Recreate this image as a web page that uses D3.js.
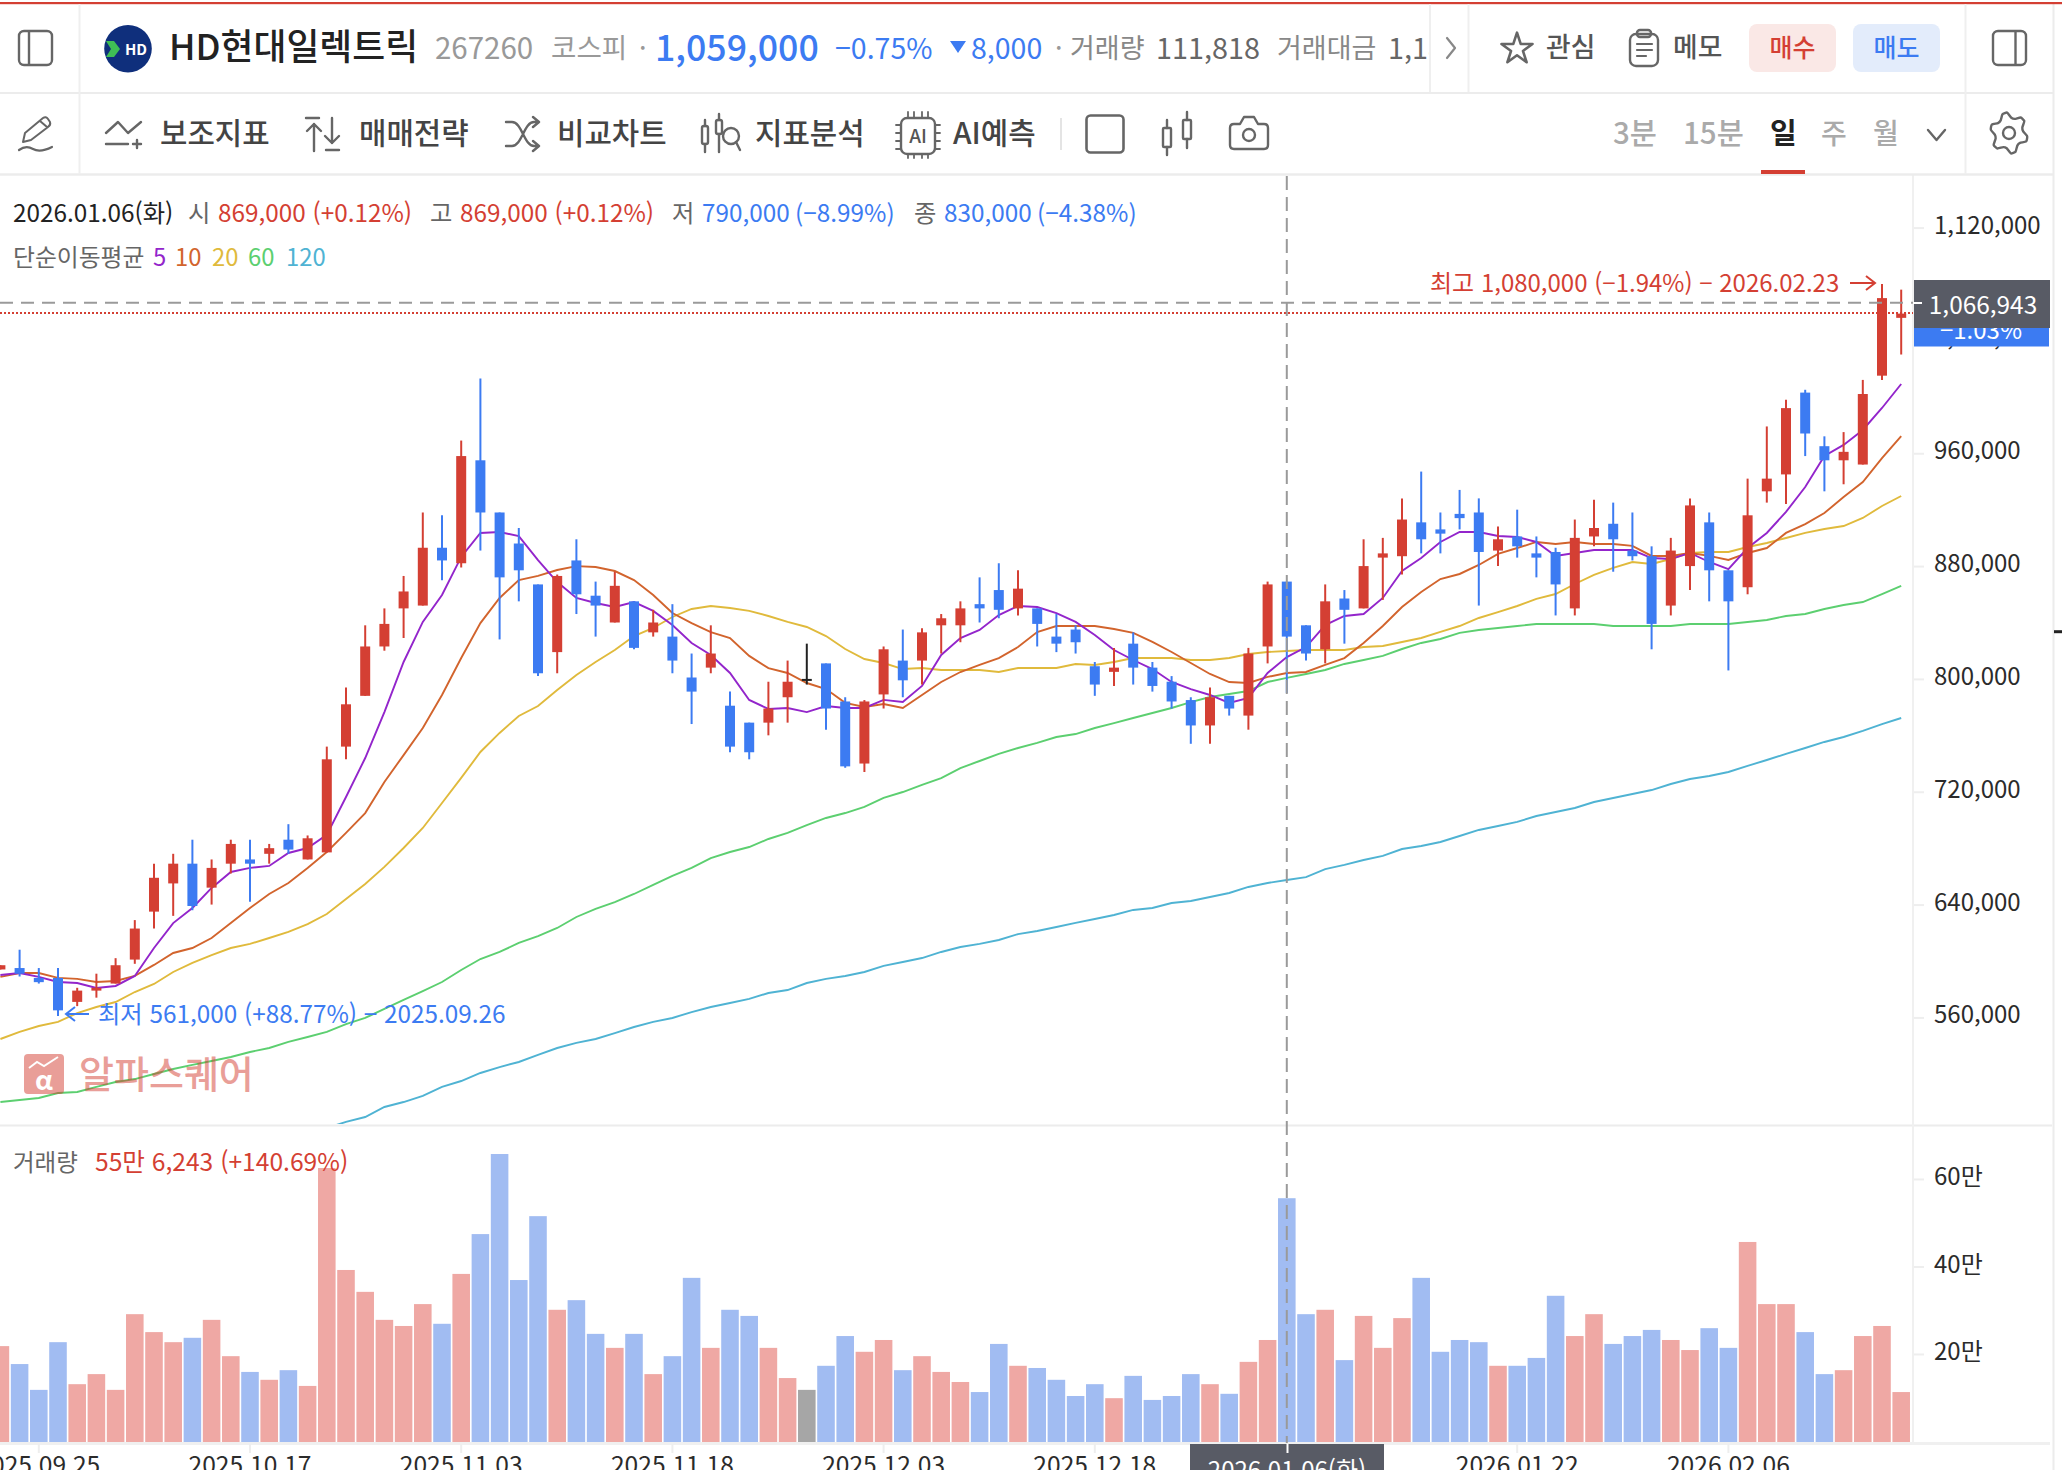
<!DOCTYPE html>
<html lang="ko">
<head>
<meta charset="utf-8">
<title>HD현대일렉트릭</title>
<script src="https://cdn.jsdelivr.net/npm/d3@7"></script>
<style>
  html, body { margin: 0; padding: 0; background: #fff; overflow: hidden; }
  svg { display: block; font-family: "Noto Sans CJK KR", "Noto Sans", sans-serif; }
</style>
</head>
<body>
<script>
const tradingDays = [
  "2025.09.23","2025.09.24","2025.09.25","2025.09.26","2025.09.29","2025.09.30","2025.10.01","2025.10.02","2025.10.10","2025.10.13",
  "2025.10.14","2025.10.15","2025.10.16","2025.10.17","2025.10.20","2025.10.21","2025.10.22","2025.10.23","2025.10.24","2025.10.27",
  "2025.10.28","2025.10.29","2025.10.30","2025.10.31","2025.11.03","2025.11.04","2025.11.05","2025.11.06","2025.11.07","2025.11.10",
  "2025.11.11","2025.11.12","2025.11.13","2025.11.14","2025.11.17","2025.11.18","2025.11.19","2025.11.20","2025.11.21","2025.11.24",
  "2025.11.25","2025.11.26","2025.11.27","2025.11.28","2025.12.01","2025.12.02","2025.12.03","2025.12.04","2025.12.05","2025.12.08",
  "2025.12.09","2025.12.10","2025.12.11","2025.12.12","2025.12.15","2025.12.16","2025.12.17","2025.12.18","2025.12.19","2025.12.22",
  "2025.12.23","2025.12.24","2025.12.26","2025.12.29","2025.12.30","2026.01.02","2026.01.05","2026.01.06","2026.01.07","2026.01.08",
  "2026.01.09","2026.01.12","2026.01.13","2026.01.14","2026.01.15","2026.01.16","2026.01.19","2026.01.20","2026.01.21","2026.01.22",
  "2026.01.23","2026.01.26","2026.01.27","2026.01.28","2026.01.29","2026.01.30","2026.02.02","2026.02.03","2026.02.04","2026.02.05",
  "2026.02.06","2026.02.09","2026.02.10","2026.02.11","2026.02.12","2026.02.13","2026.02.19","2026.02.20","2026.02.23","2026.02.24"
];

// prices in thousand won
const opens = [594,595,588,588,571,579,584,601,635,655,669,652,669,672,676,686,672,677,752,788,823,850,852,893,882,955,918,896,867,819,
  884,859,840,855,833,830,801,808,781,769,769,787,800,811,784,740,789,813,813,838,838,853,863,850,850,830,835,809,805,825,
  808,798,785,767,788,774,823,869,838,821,857,850,886,887,911,906,917,918,891,901,889,890,850,901,910,891,887,852,880,911,
  877,865,933,945,1003,965,955,952,1015,1056];
const highs = [597,608,595,595,581,591,602,629,669,676,686,672,686,686,683,697,689,752,794,838,850,873,918,916,969,1013,918,907,867,874,
  899,869,876,855,849,853,818,838,791,769,798,813,825,811,787,785,823,835,836,846,855,872,882,877,850,846,838,812,822,833,
  812,802,787,794,788,822,869,869,838,867,863,899,900,928,947,918,934,928,908,920,901,893,913,927,925,918,894,900,928,918,
  877,942,979,998,1005,972,975,1012,1080,1076];
const lows = [594,589,584,561,568,574,584,598,623,632,636,640,662,642,669,676,672,677,743,788,820,829,852,870,879,891,828,855,802,804,
  846,830,840,821,830,804,768,804,748,743,760,769,796,764,737,734,779,787,796,818,826,840,843,845,823,819,818,788,795,796,
  791,779,754,754,774,764,811,790,813,811,825,850,856,874,889,889,906,852,880,886,872,845,845,894,876,884,821,845,863,855,
  806,860,925,924,958,933,938,952,1012,1030];
const closes = [597,591,585,565,579,581,597,623,659,669,639,666,683,669,680,679,687,743,782,823,839,862,893,884,958,918,872,877,804,873,
  860,852,866,822,840,813,791,818,752,748,779,798,800,779,738,784,821,799,833,843,850,850,849,864,839,825,826,796,808,808,
  795,784,767,787,779,818,867,830,818,855,849,880,889,913,899,903,914,890,899,894,886,867,900,907,899,887,839,891,923,877,
  855,916,942,992,974,955,961,1002,1070,1059];

const ma5 = [590.1,591.5,588.7,585.1,584.4,580.9,582.3,589.4,609.2,626.9,637.6,651.8,663.1,666.0,667.4,676.6,680.1,689.4,716.3,743.9,
  776.5,812.0,840.4,859.5,886.5,903.5,904.2,901.3,884.3,868.7,857.4,853.8,851.0,854.5,848.2,838.2,825.5,817.0,804.2,785.1,
  778.7,779.4,776.5,780.8,779.4,779.4,785.1,783.6,795.0,817.0,829.0,834.7,845.3,851.7,851.0,846.7,840.4,831.1,820.5,813.4,
  807.0,797.8,792.8,788.6,783.0,786.5,804.2,815.5,822.6,838.2,844.6,846.0,857.4,876.5,885.7,897.1,904.2,904.2,901.3,900.6,
  897.1,887.2,889.3,891.4,891.4,891.4,885.7,885.0,889.3,882.9,877.9,892.8,903.5,918.4,936.1,958.1,965.9,976.5,992.1,1009.1];
const ma10 = [588.7,591.5,591.5,588.0,587.3,585.1,585.8,589.4,597.2,605.7,609.2,616.3,626.9,637.6,647.5,655.3,666.0,677.3,690.8,704.9,
  726.9,746.0,765.2,788.6,814.8,839.6,857.4,870.1,873.0,877.2,880.0,879.3,876.5,870.1,859.5,846.7,839.6,833.2,829.0,816.3,
  807.7,804.2,797.1,792.8,783.0,780.1,782.2,779.4,788.6,797.8,804.9,809.9,814.8,822.6,833.2,837.5,837.5,837.5,835.4,832.6,
  826.2,819.1,811.3,803.5,797.8,797.1,801.4,804.2,804.9,809.9,814.8,825.5,837.5,851.0,861.6,870.8,874.4,880.8,888.6,892.8,
  897.1,895.7,897.1,895.7,895.7,894.3,887.2,887.2,889.3,887.2,884.3,889.3,892.8,903.5,909.8,917.6,929.0,939.6,956.6,972.2];
const ma20 = [544.7,549.7,553.9,556.8,563.1,567.4,570.9,578.0,583.7,592.2,598.6,604.2,609.2,612.1,616.3,620.6,626.2,633.3,643.9,654.6,
  666.7,680.1,694.3,712.0,729.8,748.2,761.7,773.7,780.8,792.1,802.8,812.0,820.5,830.4,836.1,843.9,849.6,851.7,850.3,848.2,
  844.6,840.4,836.8,830.4,821.2,814.1,811.3,807.0,807.7,806.3,806.3,806.3,804.9,807.7,807.7,807.7,810.6,809.9,812.0,814.8,
  814.8,814.8,813.4,813.4,814.8,817.7,819.1,819.8,820.5,820.5,820.5,822.6,823.3,826.2,829.0,833.3,837.5,843.2,847.4,851.7,
  856.7,860.2,867.3,873.7,878.7,882.9,881.5,885.0,889.3,890.0,890.0,893.5,896.4,899.9,903.5,906.3,908.4,914.1,922.6,929.7];
const ma60 = [500.0,501.4,502.9,506.4,507.1,510.7,514.2,516.3,519.9,523.4,526.3,529.1,531.9,535.5,538.3,542.6,546.1,549.7,555.3,559.6,
  566.0,572.4,578.7,585.1,593.6,601.4,606.4,612.8,617.7,623.4,631.2,636.9,641.8,647.5,653.9,660.3,666.0,673.0,677.3,680.8,
  686.5,690.8,696.4,701.4,704.9,709.2,715.6,719.8,724.8,729.7,736.8,741.8,746.8,751.0,754.6,758.8,760.9,765.2,768.7,772.3,
  775.8,779.4,783.6,787.2,789.3,791.4,797.8,800.7,803.5,806.3,810.6,813.4,816.3,821.2,825.5,828.3,832.6,834.7,836.1,837.5,
  838.9,838.9,838.9,838.9,837.5,837.5,837.5,837.5,838.9,838.9,838.9,840.4,841.8,844.6,846.0,849.6,852.4,854.5,860.2,865.9];
// the 120 day line only enters the pane at 2025.10.23, earlier values lie below it
const ma120 = [null,null,null,null,null,null,null,null,null,null,null,null,null,null,null,null,null,481.6,485.9,489.4,
  496.5,500.0,504.3,510.7,514.9,520.6,524.8,528.4,533.4,538.3,541.9,544.7,548.9,553.2,556.8,559.6,563.8,567.4,570.2,573.1,
  577.3,579.4,584.4,587.3,589.4,592.2,596.5,599.3,602.1,606.4,609.9,612.1,614.9,619.1,621.3,624.1,627.0,629.8,632.6,636.2,
  637.6,641.1,642.5,645.4,648.2,652.5,655.3,657.4,659.5,665.2,668.1,671.6,674.5,679.4,681.5,684.4,688.6,692.9,695.7,698.6,
  702.8,705.6,708.5,712.7,715.6,718.4,721.2,725.5,729.0,731.2,734.0,738.3,742.5,746.8,751.0,755.3,758.8,763.1,768.0,772.3];

// volume in units of 만 shares
const volumes = [21.8,17.7,11.8,22.7,13.1,15.4,11.8,29.1,25.0,22.7,23.7,27.8,19.5,15.9,14.1,16.3,12.7,62.5,39.2,34.2,
  27.8,26.4,31.4,26.9,38.3,47.4,65.7,36.9,51.5,30.1,32.3,24.6,21.4,24.6,15.4,19.5,37.4,21.4,30.1,28.7,
  21.4,14.5,11.8,17.3,24.1,20.5,23.2,16.3,19.5,15.9,13.6,11.3,22.3,17.3,16.8,14.1,10.4,13.1,9.9,15.0,
  9.5,10.4,15.4,13.1,10.9,18.2,23.2,55.6,29.1,30.1,18.6,28.7,21.4,28.2,37.4,20.5,23.2,22.7,17.3,17.3,
  19.1,33.3,24.1,29.1,22.3,24.1,25.5,23.2,20.9,25.9,21.4,45.6,31.4,31.4,25.0,15.4,16.3,24.1,26.4,11.3];

const priceTicks = [1120,1040,960,880,800,720,640,560];
const volumeTicks = [20,40,60];
const dateTicks = ["2025.09.25","2025.10.17","2025.11.03","2025.11.18","2025.12.03","2025.12.18","2026.01.22","2026.02.06"];

const movingAverages = [
  { values: ma120, color: "#4fb3d3" },
  { values: ma60, color: "#5ccf70" },
  { values: ma20, color: "#e0ba3c" },
  { values: ma10, color: "#d2642d" },
  { values: ma5, color: "#9325cb" },
];

const RED = "#d43f33", BLUE = "#3c7bf2", DARK = "#585b65", LINE = "#efefef", ICON = "#666";

const svg = d3.select("body").append("svg").attr("width", 2062).attr("height", 1470);

const text = (parent, x, y, str, fill, size, opts = {}) =>
  parent.append("text").attr("x", x).attr("y", y).attr("fill", fill)
    .attr("font-size", size).attr("font-weight", opts.weight || 400)
    .attr("text-anchor", opts.anchor || "start").text(str);

const vline = (x, y1, y2, color = LINE, w = 2) =>
  svg.append("line").attr("x1", x).attr("x2", x).attr("y1", y1).attr("y2", y2).attr("stroke", color).attr("stroke-width", w);
const hline = (y, x1, x2, color = LINE, w = 2) =>
  svg.append("line").attr("x1", x1).attr("x2", x2).attr("y1", y).attr("y2", y).attr("stroke", color).attr("stroke-width", w);

// scales
const x = d3.scaleBand().domain(tradingDays).range([-9.2, 1910.8]).paddingInner(0.085).paddingOuter(0.0425);
const cx = (d) => x(d) + x.bandwidth() / 2;
const yPrice = d3.scaleLinear().domain([1080, 561]).range([284, 1016]);
const yVolume = d3.scaleLinear().domain([0, 70]).range([1441.5, 1135.2]);

svg.append("defs").append("clipPath").attr("id", "pricePane")
  .append("rect").attr("x", 0).attr("y", 176).attr("width", 1912).attr("height", 948);

// volume bars
const candleColor = (i, soft) => {
  if (closes[i] === opens[i]) return soft ? "#a6a6a6" : "#222";
  if (closes[i] > opens[i]) return soft ? "#efa8a4" : RED;
  return soft ? "#a1bcf2" : BLUE;
};

svg.append("g").selectAll("rect").data(tradingDays).join("rect")
  .attr("x", (d) => x(d))
  .attr("width", x.bandwidth())
  .attr("y", (d, i) => yVolume(volumes[i]))
  .attr("height", (d, i) => 1442 - yVolume(volumes[i]))
  .attr("fill", (d, i) => candleColor(i, true));

// moving averages
const pricePane = svg.append("g").attr("clip-path", "url(#pricePane)");
movingAverages.forEach((ma) => {
  const line = d3.line()
    .defined((d, i) => ma.values[i] !== null)
    .x((d) => cx(d))
    .y((d, i) => yPrice(ma.values[i]));
  pricePane.append("path").attr("d", line(tradingDays))
    .attr("fill", "none").attr("stroke", ma.color).attr("stroke-width", 1.9);
});

// candles
const candles = pricePane.append("g").selectAll("g").data(tradingDays).join("g");
candles.append("line")
  .attr("x1", (d) => cx(d)).attr("x2", (d) => cx(d))
  .attr("y1", (d, i) => yPrice(highs[i])).attr("y2", (d, i) => yPrice(lows[i]))
  .attr("stroke", (d, i) => candleColor(i, false)).attr("stroke-width", 2);
candles.append("rect")
  .attr("x", (d) => cx(d) - 5).attr("width", 10)
  .attr("y", (d, i) => yPrice(Math.max(opens[i], closes[i])))
  .attr("height", (d, i) => Math.max(2, Math.abs(yPrice(opens[i]) - yPrice(closes[i]))))
  .attr("fill", (d, i) => candleColor(i, false));

// watermark
const mark = svg.append("g").attr("opacity", 0.5);
mark.append("rect").attr("x", 24).attr("y", 1054).attr("width", 40).attr("height", 40).attr("rx", 4).attr("fill", RED);
mark.append("path").attr("d", "M29 1068 L37 1062 L44 1066 L58 1057").attr("fill", "none").attr("stroke", "#fff").attr("stroke-width", 2);
text(mark, 44, 1090, "α", "#fff", 27, { anchor: "middle", weight: 700 });
text(mark, 79, 1088, "알파스퀘어", RED, 38, { weight: 500 });

// axes
hline(1125.5, 0, 2052, "#ececec", 2);
hline(1443.5, 0, 2050, "#f0f0f0", 3);
vline(1913, 175, 1443, "#f0f0f0", 2);
vline(2053.5, 4, 1470, "#ececec", 2);

const priceAxis = svg.append("g").attr("transform", "translate(1914,0)")
  .call(d3.axisRight(yPrice).tickValues(priceTicks).tickSize(10).tickFormat((d) => d3.format(",")(d * 1000)));
const volumeAxis = svg.append("g").attr("transform", "translate(1914,0)")
  .call(d3.axisRight(yVolume).tickValues(volumeTicks).tickSize(10).tickFormat((d) => d + "만"));
const dateAxis = svg.append("g").attr("transform", "translate(0,1444)")
  .call(d3.axisBottom(x).tickValues(dateTicks).tickSize(9));

[priceAxis, volumeAxis, dateAxis].forEach((axis) => {
  axis.select(".domain").remove();
  axis.selectAll(".tick line").attr("stroke", "#eee").attr("stroke-width", 2);
  axis.selectAll(".tick text").attr("fill", "#2b2b2b").attr("font-size", 24)
    .attr("font-family", "\"Noto Sans CJK KR\", sans-serif");
});
priceAxis.selectAll(".tick text").attr("x", 20).attr("dy", "0.23em");
volumeAxis.selectAll(".tick text").attr("x", 20).attr("dy", "0.23em");
dateAxis.selectAll(".tick text").attr("y", 13).attr("dy", "0.71em").attr("font-size", 24.6);

// crosshair and last price lines
hline(yPrice(closes[99]) - 0.5, 0, 1913, RED, 2).attr("stroke-dasharray", "2 2");
vline(cx("2026.01.06"), 176, 1443, "#9a9a9a", 2).attr("stroke-dasharray", "14 7");
hline(302.7, 0, 1913, "#9a9a9a", 2).attr("stroke-dasharray", "13 8");

// price tags at the right
svg.append("rect").attr("x", 1914).attr("y", 296).attr("width", 135).attr("height", 50.5).attr("fill", BLUE);
text(svg, 1981, 339, "−1.03%", "#fff", 24, { anchor: "middle" });
svg.append("rect").attr("x", 1914).attr("y", 280).attr("width", 136).attr("height", 48).attr("fill", DARK);
text(svg, 1983, 314, "1,066,943", "#fff", 24.4, { anchor: "middle" });
hline(303, 1913, 1922, "#fff", 2);

svg.append("rect").attr("x", 1190).attr("y", 1444).attr("width", 194).attr("height", 26).attr("fill", DARK);
text(svg, 1287, 1479, "2026.01.06(화)", "#fff", 24, { anchor: "middle" });
vline(1287.5, 1444, 1453, "#fff", 2);
hline(631.7, 2054, 2062, "#222", 3);

// legends over the chart
const legendRow = [
  [13, "2026.01.06(화)", "#222"], [188, "시", "#666"], [218, "869,000 (+0.12%)", RED],
  [430, "고", "#666"], [460, "869,000 (+0.12%)", RED], [672, "저", "#666"], [702, "790,000 (−8.99%)", BLUE],
  [914, "종", "#666"], [944, "830,000 (−4.38%)", BLUE],
];
legendRow.forEach(([lx, str, fill]) => text(svg, lx, 221.5, str, fill, 24.3));
const maLegend = [[13, "단순이동평균", "#666"], [153, "5", "#9325cb"], [175, "10", "#d2642d"], [212, "20", "#e0ba3c"], [248, "60", "#5ccf70"], [286, "120", "#4fb3d3"]];
maLegend.forEach(([lx, str, fill]) => text(svg, lx, 265.5, str, fill, 23.8));

text(svg, 13, 1171, "거래량", "#666", 23.5);
text(svg, 95, 1171, "55만 6,243 (+140.69%)", RED, 24.6);

text(svg, 1430, 291.5, "최고 1,080,000 (−1.94%) − 2026.02.23", RED, 24);
svg.append("path").attr("d", "M1850 283 H1875 M1866 276 L1875 283 L1866 290").attr("fill", "none").attr("stroke", RED).attr("stroke-width", 2);
svg.append("path").attr("d", "M89 1014 H66 M75 1007 L66 1014 L75 1021").attr("fill", "none").attr("stroke", BLUE).attr("stroke-width", 2);
text(svg, 98, 1022.5, "최저 561,000 (+88.77%) − 2025.09.26", BLUE, 24.3);

// ---- header ----
svg.append("rect").attr("x", 0).attr("y", 2).attr("width", 2062).attr("height", 2.2).attr("fill", RED);
hline(93, 0, 2054, "#ececec", 2);
hline(174.5, 0, 2054, "#ececec", 2.5);
vline(79.5, 4, 174);
vline(1430, 4, 92);
vline(1468.5, 4, 92);
vline(1965.5, 4, 174);

const stroke = (sel, w = 2.2, color = ICON) => sel.attr("fill", "none").attr("stroke", color).attr("stroke-width", w);
const iconPath = (d, w, color) => stroke(svg.append("path").attr("d", d), w, color).attr("stroke-linecap", "round").attr("stroke-linejoin", "round");
const iconRect = (rx, ry, w, h, r, sw, color) => stroke(svg.append("rect").attr("x", rx).attr("y", ry).attr("width", w).attr("height", h).attr("rx", r), sw, color);

iconRect(19, 31, 33, 34, 5, 2.4);
vline(29, 31, 65, ICON, 2.4);
iconRect(1993, 31, 33, 34, 5, 2.4);
vline(2015.5, 31, 65, ICON, 2.4);

svg.append("circle").attr("cx", 128).attr("cy", 48.7).attr("r", 23.8).attr("fill", "#0f2f7c");
svg.append("path").attr("d", "M106 41 H114 L120 49 L114 57 H106 L111 49 Z").attr("fill", "#3fbf55");
text(svg, 136, 54.5, "HD", "#fff", 15, { anchor: "middle", weight: 700 });

text(svg, 169, 60, "HD현대일렉트릭", "#222", 35.8, { weight: 500 });
text(svg, 435, 58.5, "267260", "#999", 29.5);
text(svg, 551, 58, "코스피", "#999", 27.6);
text(svg, 639, 58, "·", "#999", 27);
text(svg, 655, 61, "1,059,000", BLUE, 35.7, { weight: 500 });
text(svg, 835, 59, "−0.75%", BLUE, 28.5);
svg.append("path").attr("d", "M950 41 H966 L958 53 Z").attr("fill", BLUE);
text(svg, 971, 59, "8,000", BLUE, 28.5);
text(svg, 1055, 58, "·", "#999", 27);
text(svg, 1070, 58, "거래량", "#888", 27);
text(svg, 1156, 58.5, "111,818", "#666", 28.8);
text(svg, 1277, 58, "거래대금", "#888", 27);
svg.append("defs").append("clipPath").attr("id", "tradeValue").append("rect").attr("x", 1380).attr("y", 10).attr("width", 49).attr("height", 70);
text(svg, 1388, 58.5, "1,180억", "#666", 28.8).attr("clip-path", "url(#tradeValue)");
iconPath("M1447 38 L1455 48 L1447 58", 2.2, "#888");

stroke(svg.append("path")
  .attr("d", d3.symbol(d3.symbolStar, 300)())
  .attr("transform", "translate(1517,49)"), 2.6).attr("stroke-linejoin", "round");
text(svg, 1546, 57, "관심", "#555", 26.8, { weight: 500 });
iconRect(1630, 34, 28, 32, 6, 2.4);
iconRect(1637, 30, 14, 7, 3, 2.4);
iconPath("M1637 44 H1652 M1637 50 H1652 M1637 56 H1646", 2.2);
text(svg, 1673, 57, "메모", "#555", 26.8, { weight: 500 });
svg.append("rect").attr("x", 1749).attr("y", 24).attr("width", 87).attr("height", 48).attr("rx", 8).attr("fill", "#fae8e6");
text(svg, 1792.5, 57, "매수", RED, 25, { anchor: "middle", weight: 500 });
svg.append("rect").attr("x", 1853).attr("y", 24).attr("width", 87).attr("height", 48).attr("rx", 8).attr("fill", "#e3ecfb");
text(svg, 1896.5, 57, "매도", BLUE, 25, { anchor: "middle", weight: 500 });

// ---- toolbar ----
iconPath("M23 142 L25 133 L43 118 Q46 116 48 119 L50 122 Q51 125 48 127 L31 140 Z M40 121 L47 127", 2);
iconPath("M19 150 Q26 145 33 149 T52 147", 2.2);

iconPath("M106 133 L118 122 L128 133 L141 122 M106 144 H128 M137 140 V148 M133 144 H141", 2.4);
text(svg, 160, 143.5, "보조지표", "#444", 29.8, { weight: 500 });

iconPath("M306 118 H319 M314 124 V151 M307 131 L314 124 L321 131 M332 118 V143 M325 136 L332 143 L339 136 M326 150 H339", 2.4);
text(svg, 359, 143.5, "매매전략", "#444", 29.8, { weight: 500 });

iconPath("M506 122 H512 C522 122 524 146 534 146 H538 M533 141 L539 146 L533 151 M506 146 H512 C522 146 524 122 534 122 H538 M533 117 L539 122 L533 127", 2.4);
text(svg, 557, 143.5, "비교차트", "#444", 29.8, { weight: 500 });

iconRect(702, 126, 6, 18, 2, 2.4);
iconRect(716, 120, 6, 14, 2, 2.4);
iconPath("M705 120 V126 M705 144 V152 M719 114 V120 M719 134 V152 M736 142 L740 150", 2.4);
stroke(svg.append("circle").attr("cx", 731).attr("cy", 136).attr("r", 8), 2.4);
text(svg, 755, 143.5, "지표분석", "#444", 29.8, { weight: 500 });

iconRect(901, 118, 34, 36, 6, 2.4);
iconPath("M908 112 V118 M914 112 V118 M922 112 V118 M928 112 V118 M908 154 V158 M914 154 V158 M922 154 V158 M928 154 V158 M896 125 H901 M896 133 H901 M896 141 H901 M896 149 H901 M935 125 H940 M935 133 H940 M935 141 H940 M935 149 H940", 1.8);
text(svg, 918, 143, "AI", "#555", 19, { anchor: "middle", weight: 500 });
text(svg, 953, 143.5, "AI예측", "#444", 29.8, { weight: 500 });

vline(1061, 118, 150, "#e4e4e4", 2);
iconRect(1086.5, 115.5, 37, 37, 4, 2.6);
iconRect(1163, 128, 8, 19, 1, 2.4);
iconRect(1183, 120, 8, 19, 1, 2.4);
iconPath("M1167 120 V128 M1167 147 V155 M1187 112 V120 M1187 139 V148", 2.4);
iconPath("M1230 128 Q1230 124 1234 124 H1240 L1244 117 H1254 L1258 124 H1264 Q1268 124 1268 128 V145 Q1268 149 1264 149 H1234 Q1230 149 1230 145 Z", 2.4);
stroke(svg.append("circle").attr("cx", 1249).attr("cy", 135).attr("r", 6), 2.4);

text(svg, 1613, 143.5, "3분", "#aaa", 29.5, { weight: 500 });
text(svg, 1683, 143.5, "15분", "#aaa", 29.5, { weight: 500 });
text(svg, 1770, 143.5, "일", "#222", 29, { weight: 700 });
text(svg, 1821, 143.5, "주", "#aaa", 28, { weight: 500 });
text(svg, 1873, 143.5, "월", "#aaa", 28, { weight: 500 });
iconPath("M1928 130 L1936.5 140 L1945 130", 2.4);
svg.append("rect").attr("x", 1761).attr("y", 170).attr("width", 44).attr("height", 4).attr("fill", RED);

const gearPoints = d3.range(24).map((k) => {
  const a = (k / 24) * 2 * Math.PI, r = [20.5, 20, 15.5, 15.5][k % 4];
  return [2009 + r * Math.sin(a + 0.1) * 0.92, 133 + r * Math.cos(a + 0.1)];
});
iconPath(d3.line().curve(d3.curveCardinalClosed.tension(0.5))(gearPoints), 2.4);
stroke(svg.append("circle").attr("cx", 2009).attr("cy", 133).attr("r", 6), 2.4);
</script>
</body>
</html>
